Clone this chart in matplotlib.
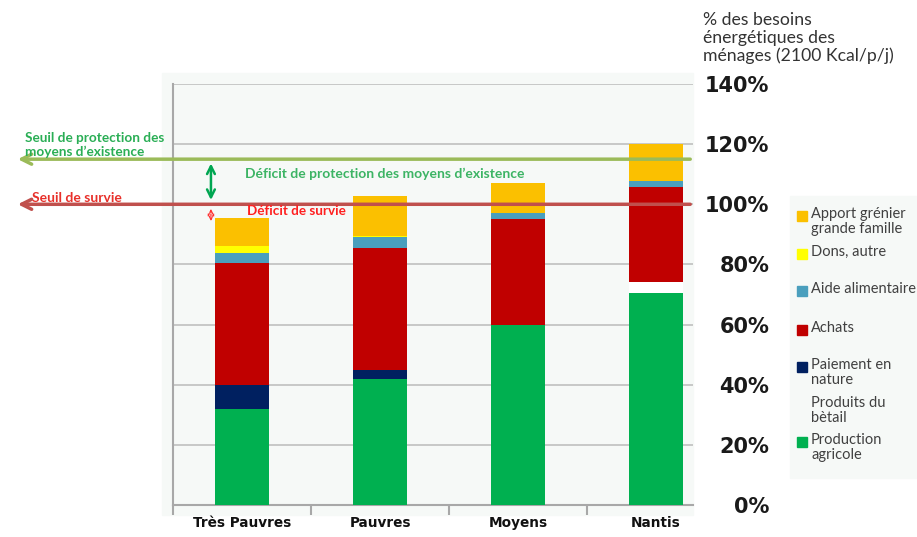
import matplotlib.pyplot as plt
from matplotlib.patches import Rectangle

# categories and stacked components (% of energy needs)
categories = ['Très Pauvres', 'Pauvres', 'Moyens', 'Nantis']
production_agricole = [32.0, 42.0, 60.0, 70.6]
produits_betail = [0.0, 0.0, 0.0, 3.5]
paiement_nature = [8.0, 3.0, 0.0, 0.0]
achats = [40.6, 40.6, 35.0, 31.8]
aide_alimentaire = [3.1, 3.4, 2.2, 1.9]
dons_autre = [2.3, 0.5, 0.0, 0.0]
apport_grenier = [9.3, 13.1, 9.8, 12.2]

seuil_protection = 115
seuil_survie = 100

yticks = [0, 20, 40, 60, 80, 100, 120, 140]

series = [
    ('Production\nagricole', production_agricole, '#00b050'),
    ('Produits du\nbètail', produits_betail, '#ffffff'),
    ('Paiement en\nnature', paiement_nature, '#002060'),
    ('Achats', achats, '#c00000'),
    ('Aide alimentaire', aide_alimentaire, '#4a9fbd'),
    ('Dons, autre', dons_autre, '#ffff00'),
    ('Apport grénier\ngrande famille', apport_grenier, '#fbc000'),
]

W, H = 917, 537
fig = plt.figure(figsize=(W / 100, H / 100), dpi=100)


def fx(px):
    return px / W


def fy(py):
    return 1 - py / H


# light plot-area background and legend background
fig.patches.append(Rectangle((fx(162), fy(515)), fx(693 - 162), (515 - 73) / H,
                             transform=fig.transFigure, color='#f6f9f7', zorder=-5))
fig.patches.append(Rectangle((fx(790), fy(478)), fx(917 - 790), (478 - 196) / H,
                             transform=fig.transFigure, color='#f6f9f7', zorder=-5))

ax = fig.add_axes([fx(173), fy(505), fx(520), (505 - 84) / H])
ax.set_facecolor('none')

x = list(range(len(categories)))
bottom = [0.0] * len(categories)
for label, vals, color in series:
    ax.bar(x, vals, width=0.39, bottom=bottom, color=color, zorder=3)
    bottom = [b + v for b, v in zip(bottom, vals)]

ax.set_xlim(-0.5, 3.268)
ax.set_ylim(0, 140)

# grid
ax.set_yticks(yticks)
ax.yaxis.grid(True, color='#c4c4c4', lw=1.3, zorder=1)
ax.set_axisbelow(True)
for s in ['top', 'right']:
    ax.spines[s].set_visible(False)
ax.spines['left'].set_color('#a8a8a8')
ax.spines['left'].set_linewidth(1.5)
ax.spines['bottom'].set_color('#a8a8a8')
ax.spines['bottom'].set_linewidth(1.5)

# y labels on the right
ax.yaxis.tick_right()
ax.set_yticklabels([f'{v}%' for v in yticks], family='DejaVu Sans',
                   fontsize=15, fontweight='bold', color='#1a1a1a')
ax.tick_params(axis='y', length=0, pad=55)
for t in ax.get_yticklabels():
    t.set_ha('right')

# x labels
ax.set_xticks(x)
ax.set_xticklabels(categories, fontsize=9.8, fontweight='bold', color='#111111')
ax.set_xticks([-0.5, 0.5, 1.5, 2.5], minor=True)
ax.tick_params(axis='x', which='major', length=0, pad=8)
ax.tick_params(axis='x', which='minor', length=7, width=1.5, color='#a8a8a8')

# threshold lines with arrows pointing left
x_left = -1.645
ax.annotate('', xy=(x_left, seuil_protection), xytext=(3.268, seuil_protection),
            arrowprops=dict(arrowstyle='->', color='#9bbb59', lw=2.5,
                            mutation_scale=18), annotation_clip=False, zorder=5)
ax.annotate('', xy=(x_left, seuil_survie), xytext=(3.268, seuil_survie),
            arrowprops=dict(arrowstyle='->', color='#c0504d', lw=2.5,
                            mutation_scale=18), annotation_clip=False, zorder=5)

# deficit arrows
xa = -0.225
ax.annotate('', xy=(xa, seuil_survie + 0.5), xytext=(xa, seuil_protection - 0.5),
            arrowprops=dict(arrowstyle='<->', color='#00a651', lw=1.8,
                            mutation_scale=14), zorder=6)
ax.annotate('', xy=(xa, 93.5), xytext=(xa, seuil_survie - 0.6),
            arrowprops=dict(arrowstyle='<->', color='#ff3030', lw=0.9,
                            ls=(0, (2, 1)), mutation_scale=10), zorder=6)

ax.text(0.02, 110, 'Déficit de protection des moyens d\u2019existence',
        family='Lato', fontsize=10, fontweight='bold', color='#3cb464',
        va='center', zorder=6)
ax.text(0.035, 97.7, 'Déficit de survie', family='Lato', fontsize=9.7,
        fontweight='bold', color='#ff2020', va='center', zorder=6)

fig.text(fx(25), fy(145), 'Seuil de protection des\nmoyens d\u2019existence',
         family='Lato', fontsize=9.8, fontweight='bold', color='#2aae55',
         va='center', linespacing=1.15)
fig.text(fx(32), fy(198), 'Seuil de survie', family='Lato', fontsize=10,
         fontweight='bold', color='#e8302a', va='center')

# axis title at top right
fig.text(fx(703), fy(38), '% des besoins\nénergétiques des\nménages (2100 Kcal/p/j)',
         family='Lato', fontsize=12.7, color='#333333', va='center', linespacing=1.12)

# legend
legend_rows = [
    ('Apport grénier\ngrande famille', '#fbc000', 216),
    ('Dons, autre', '#ffff00', 254),
    ('Aide alimentaire', '#4a9fbd', 291),
    ('Achats', '#c00000', 330),
    ('Paiement en\nnature', '#002060', 367),
    ('Produits du\nbètail', None, 405),
    ('Production\nagricole', '#00b050', 442),
]
for text, color, py in legend_rows:
    if color is not None:
        fig.patches.append(Rectangle((fx(797), fy(py + 5)), fx(10), 10 / H,
                                     transform=fig.transFigure, color=color, zorder=2))
    fig.text(fx(811), fy(py - 9), text, family='Lato', fontsize=10.5, color='#404040',
             va='top', linespacing=1.13)

fig.savefig('out.png', dpi=100)
